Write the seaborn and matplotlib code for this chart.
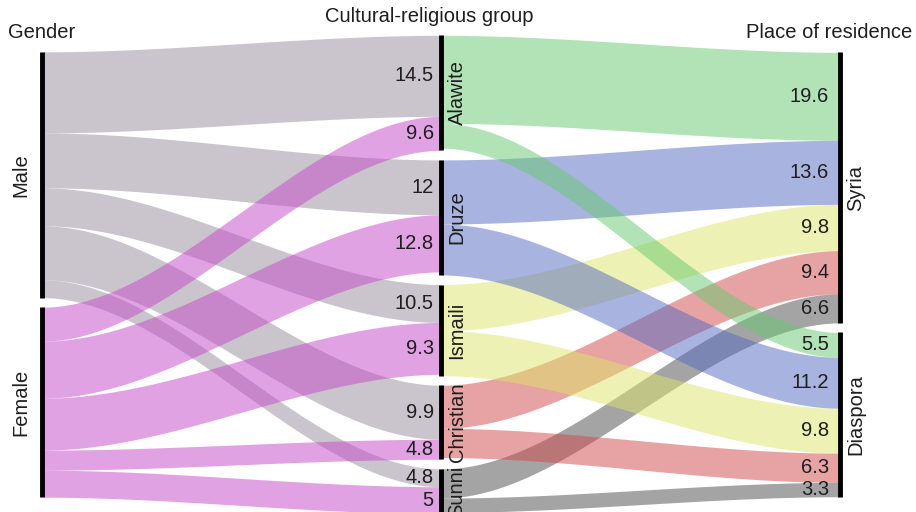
import numpy as np
import matplotlib
matplotlib.use('Agg')
import matplotlib.pyplot as plt
import seaborn as sns

# categories
genders = ['Male', 'Female']
groups = ['Alawite', 'Druze', 'Ismaili', 'Christian', 'Sunni']
places = ['Syria', 'Diaspora']

# band widths (% of respondents), gender -> group, in group order
male_flow = [18.6, 12.6, 8.7, 12.4, 4.1]
female_flow = [7.8, 13.1, 11.9, 4.6, 6.2]
# band widths, group -> place of residence
syria_flow = [20.2, 14.7, 10.6, 9.9, 6.7]
diaspora_flow = [5.7, 11.7, 10.3, 6.7, 3.3]

# numbers printed on the bands
male_lbl = [14.5, 12, 10.5, 9.9, 4.8]
female_lbl = [9.6, 12.8, 9.3, 4.8, 5]
syria_lbl = [19.6, 13.6, 9.8, 9.4, 6.6]
diaspora_lbl = [5.5, 11.2, 9.8, 6.3, 3.3]

# colours picked so that at alpha 0.5 on white they look like the reference
gender_colors = ['#978b9b', '#c547c9']
group_colors = ['#65c96f', '#5569c1', '#dde569', '#d14949', '#4b4b4b']

sns.set_theme(style='white')
plt.rcParams['font.family'] = ['Liberation Sans', 'DejaVu Sans']
txt = '#1e1e1e'
fs = 14.5

gap = 2.2
g_flow = [male_flow, female_flow]
p_flow = [syria_flow, diaspora_flow]
g_lbl = [male_lbl, female_lbl]
p_lbl = [syria_lbl, diaspora_lbl]


def stack(sizes):
    total = sum(sizes) + gap * (len(sizes) - 1)
    tops = []
    y = -total / 2
    for s in sizes:
        tops.append(y)
        y += s + gap
    return tops


def band(ax, x0, x1, a0, b0, a1, b1, color):
    x = np.linspace(x0, x1, 200)
    t = (x - x0) / (x1 - x0)
    s = 3 * t ** 2 - 2 * t ** 3
    top = a0 + (a1 - a0) * s
    bot = b0 + (b1 - b0) * s
    ax.fill_between(x, top, bot, color=color, alpha=0.5, lw=0)


gender_size = [sum(f) for f in g_flow]
place_size = [sum(f) for f in p_flow]
group_size = [max(male_flow[i] + female_flow[i], syria_flow[i] + diaspora_flow[i])
              for i in range(len(groups))]

gender_top = stack(gender_size)
group_top = stack(group_size)
place_top = stack(place_size)

fig = plt.figure(figsize=(9.16, 5.12), dpi=100)
ax = fig.add_axes([0, 0, 1, 1])
ax.set_xlim(-0.105, 2.19)
ax.set_ylim(54.5, -63.0)
ax.axis('off')

# gender -> group
mid_cur = list(group_top)
for j, g in enumerate(genders):
    cur = gender_top[j]
    for i in range(len(groups)):
        w = g_flow[j][i]
        band(ax, 0, 1, cur, cur + w, mid_cur[i], mid_cur[i] + w, gender_colors[j])
        ax.text(0.982, mid_cur[i] + w / 2, '{:g}'.format(g_lbl[j][i]), ha='right',
                va='center', fontsize=fs, color=txt)
        cur += w
        mid_cur[i] += w

# group -> place
mid_cur = list(group_top)
for k, p in enumerate(places):
    cur = place_top[k]
    for i in range(len(groups)):
        w = p_flow[k][i]
        band(ax, 1, 2, mid_cur[i], mid_cur[i] + w, cur, cur + w, group_colors[i])
        ax.text(1.972, cur + w / 2, '{:g}'.format(p_lbl[k][i]), ha='right',
                va='center', fontsize=fs, color=txt)
        cur += w
        mid_cur[i] += w

# node bars and names
for j, g in enumerate(genders):
    ax.plot([0, 0], [gender_top[j], gender_top[j] + gender_size[j]], color='black',
            lw=3.5, solid_capstyle='butt')
    ax.text(-0.052, gender_top[j] + gender_size[j] / 2, g, rotation=90, ha='center',
            va='center', fontsize=fs, color=txt)
for i, g in enumerate(groups):
    ax.plot([1, 1], [group_top[i], group_top[i] + group_size[i]], color='black',
            lw=3.5, solid_capstyle='butt')
    ax.text(1.04, group_top[i] + group_size[i] / 2, g, rotation=90, ha='center',
            va='center', fontsize=fs, color=txt)
for k, p in enumerate(places):
    ax.plot([2, 2], [place_top[k], place_top[k] + place_size[k]], color='black',
            lw=3.5, solid_capstyle='butt')
    ax.text(2.04, place_top[k] + place_size[k] / 2, p, rotation=90, ha='center',
            va='center', fontsize=fs, color=txt)

# column headers
ax.text(-0.085, -55.6, 'Gender', ha='left', va='center', fontsize=fs, color=txt)
ax.text(0.97, -59.1, 'Cultural-religious group', ha='center', va='center', fontsize=fs, color=txt)
ax.text(2.18, -55.6, 'Place of residence', ha='right', va='center', fontsize=fs, color=txt)

plt.savefig('out.png', dpi=100)
